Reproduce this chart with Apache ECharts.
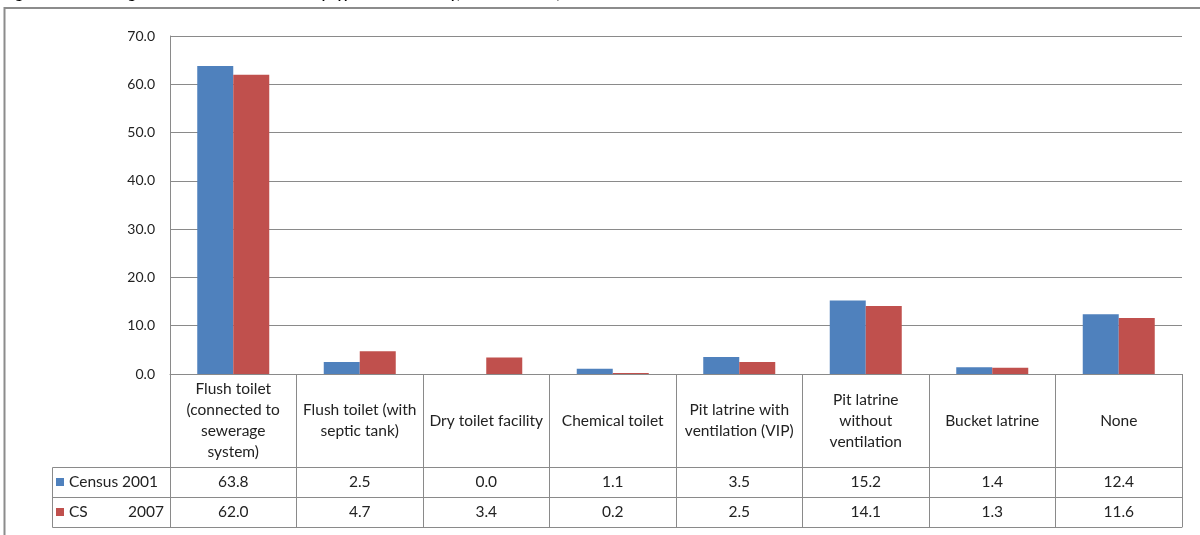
<!DOCTYPE html>
<html>
<head>
<meta charset="utf-8">
<script src="https://cdn.jsdelivr.net/npm/echarts@6/dist/echarts.min.js"></script>
<style>
  html, body { margin: 0; padding: 0; background: #fff; }
  #chart { width: 1200px; height: 535px; }
</style>
</head>
<body>
<div id="chart"></div>
<script>
// categories as printed in the data table (with their line breaks)
var categories = [
  'Flush toilet\n(connected to\nsewerage\nsystem)',
  'Flush toilet (with\nseptic tank)',
  'Dry toilet facility',
  'Chemical toilet',
  'Pit latrine with\nventilation (VIP)',
  'Pit latrine\nwithout\nventilation',
  'Bucket latrine',
  'None'
];
var census2001 = [63.8, 2.5, 0.0, 1.1, 3.5, 15.2, 1.4, 12.4];
var cs2007 = [62.0, 4.7, 3.4, 0.2, 2.5, 14.1, 1.3, 11.6];
var yTicks = { min: 0, max: 70, step: 10 };
var seriesNames = ['Census 2001', 'CS 2007'];
var titleText = 'Figure 4.5: Percentage distribution of households by type of toilet facility, KwaZulu-Natal, 2001 and 2007';

var font = 'Lato';
var lineColor = '#8a8a8a';
var textColor = '#222';
var tableSize = 15.5;

var chart = echarts.init(document.getElementById('chart'));

// table geometry (row heights under the plot)
var labelRow = 93;
var valueRow = 30;

function valueAxis(offset, values) {
  return {
    type: 'category',
    gridIndex: 0,
    position: 'bottom',
    offset: offset,
    data: categories,
    axisLine: { show: true, lineStyle: { color: lineColor } },
    axisTick: { show: false },
    axisLabel: {
      show: values != null,
      interval: 0,
      margin: valueRow / 2,
      verticalAlign: 'middle',
      fontFamily: font,
      fontSize: tableSize,
      color: textColor,
      formatter: function (v, i) { return values ? values[i].toFixed(1) : ''; }
    }
  };
}

var option = {
  animation: false,
  color: ['#4F81BD', '#C0504D'],
  grid: { left: 170, right: 18, top: 36, bottom: 161 },
  legend: [{
    data: [seriesNames[0]],
    left: 56, top: 474,
    padding: 0,
    icon: 'rect', itemWidth: 8, itemHeight: 8, itemGap: 0,
    textStyle: { fontFamily: font, fontSize: tableSize, color: textColor, lineHeight: 16 }
  }, {
    data: [seriesNames[1]],
    left: 56, top: 504,
    padding: 0,
    icon: 'rect', itemWidth: 8, itemHeight: 8, itemGap: 0,
    formatter: function (name) {
      var p = name.split(' ');
      return '{a|' + p[0] + '}{b|' + p[1] + '}';
    },
    textStyle: {
      fontFamily: font, fontSize: tableSize, color: textColor, lineHeight: 16,
      rich: {
        a: { width: 59, fontFamily: font, fontSize: tableSize, color: textColor },
        b: { fontFamily: font, fontSize: tableSize, color: textColor }
      }
    }
  }],
  xAxis: [{
    type: 'category',
    position: 'bottom',
    data: categories,
    axisLine: { show: true, lineStyle: { color: lineColor } },
    axisTick: {
      show: true, interval: 0, inside: false,
      length: labelRow + 2 * valueRow,
      lineStyle: { color: lineColor }
    },
    axisLabel: {
      interval: 0,
      margin: labelRow / 2,
      verticalAlign: 'middle',
      align: 'center',
      lineHeight: 21,
      fontFamily: font,
      fontSize: tableSize,
      color: textColor
    }
  },
    valueAxis(labelRow, census2001),
    valueAxis(labelRow + valueRow, cs2007),
    valueAxis(labelRow + 2 * valueRow, null)
  ],
  yAxis: {
    type: 'value',
    min: yTicks.min,
    max: yTicks.max,
    interval: yTicks.step,
    axisLine: { show: true, lineStyle: { color: lineColor } },
    axisTick: { show: false },
    splitLine: { lineStyle: { color: lineColor } },
    axisLabel: {
      margin: 15,
      fontFamily: font,
      fontSize: 14,
      color: textColor,
      formatter: function (v) { return v.toFixed(1); }
    }
  },
  series: [{
    name: seriesNames[0],
    type: 'bar',
    data: census2001,
    barWidth: 36,
    barGap: '0%'
  }, {
    name: seriesNames[1],
    type: 'bar',
    data: cs2007,
    barWidth: 36,
    barGap: '0%'
  }],
  graphic: [
    // outer frame of the figure (cut off at right and bottom)
    { type: 'rect', shape: { x: 4.5, y: 8, width: 1400, height: 800 },
      style: { fill: null, stroke: '#8c8c8c', lineWidth: 2 }, silent: true },
    // title, mostly cropped off the top
    { type: 'text', left: 4, top: -13,
      style: { text: titleText, font: 'bold 14px ' + font, fill: '#000' }, silent: true },
    // legend cells of the data table
    { type: 'line', shape: { x1: 52.5, y1: 467.5, x2: 170, y2: 467.5 }, style: { stroke: lineColor } },
    { type: 'line', shape: { x1: 52.5, y1: 497.5, x2: 170, y2: 497.5 }, style: { stroke: lineColor } },
    { type: 'line', shape: { x1: 52.5, y1: 527.5, x2: 170, y2: 527.5 }, style: { stroke: lineColor } },
    { type: 'line', shape: { x1: 52.5, y1: 467.5, x2: 52.5, y2: 527.5 }, style: { stroke: lineColor } }
  ]
};

chart.setOption(option);
</script>
</body>
</html>
